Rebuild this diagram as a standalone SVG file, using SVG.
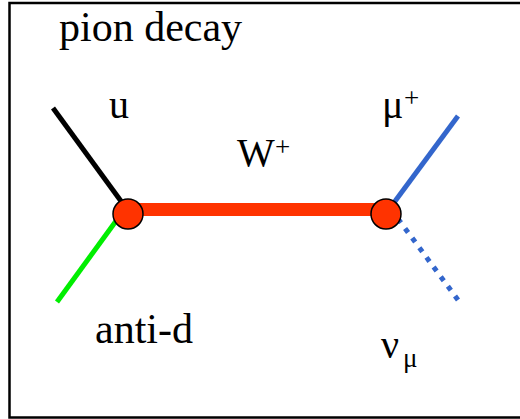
<svg xmlns="http://www.w3.org/2000/svg" width="520" height="419" viewBox="0 0 520 419">
<style>
text{font-family:"Liberation Serif","Times New Roman",serif;fill:#000}
.lbl{font-size:40px}
.sup{font-size:27px}
.line{stroke-width:5;fill:none}
.vtx{fill:#ff3300;stroke:#000;stroke-width:1.5}
</style>
<rect x="9.5" y="3" width="530" height="414.5" fill="#fff" stroke="#000" stroke-width="2.5"/>
<text x="59" y="41" font-size="42">pion decay</text>
<g id="connectors">
  <line class="line" x1="53" y1="108" x2="126" y2="208" stroke="#000"/>
  <line class="line" x1="57" y1="302" x2="124" y2="210" stroke="#00ee00"/>
  <line class="line" x1="458" y1="116" x2="390" y2="208" stroke="#3366cc"/>
  <line class="line" x1="458" y1="300" x2="390" y2="208" stroke="#3366cc" stroke-dasharray="5 7"/>
  <line x1="128" y1="209.5" x2="386" y2="209.5" stroke="#ff3300" stroke-width="13"/>
</g>
<g id="vertex-left"><circle class="vtx" cx="128" cy="214" r="15"/></g>
<g id="vertex-right"><circle class="vtx" cx="386" cy="214" r="15"/></g>
<g id="label-u"><text class="lbl" x="109" y="118">u</text></g>
<g id="label-W"><text class="lbl" x="237" y="166">W</text><text class="sup" x="275" y="156">+</text></g>
<g id="label-mu"><text class="lbl" x="382" y="118">μ</text><text class="sup" x="404" y="107">+</text></g>
<g id="label-antid"><text x="95" y="343" font-size="42">anti-d</text></g>
<g id="label-nu"><text class="lbl" x="381" y="358">ν</text><text class="sup" x="403" y="367">μ</text></g>
</svg>
